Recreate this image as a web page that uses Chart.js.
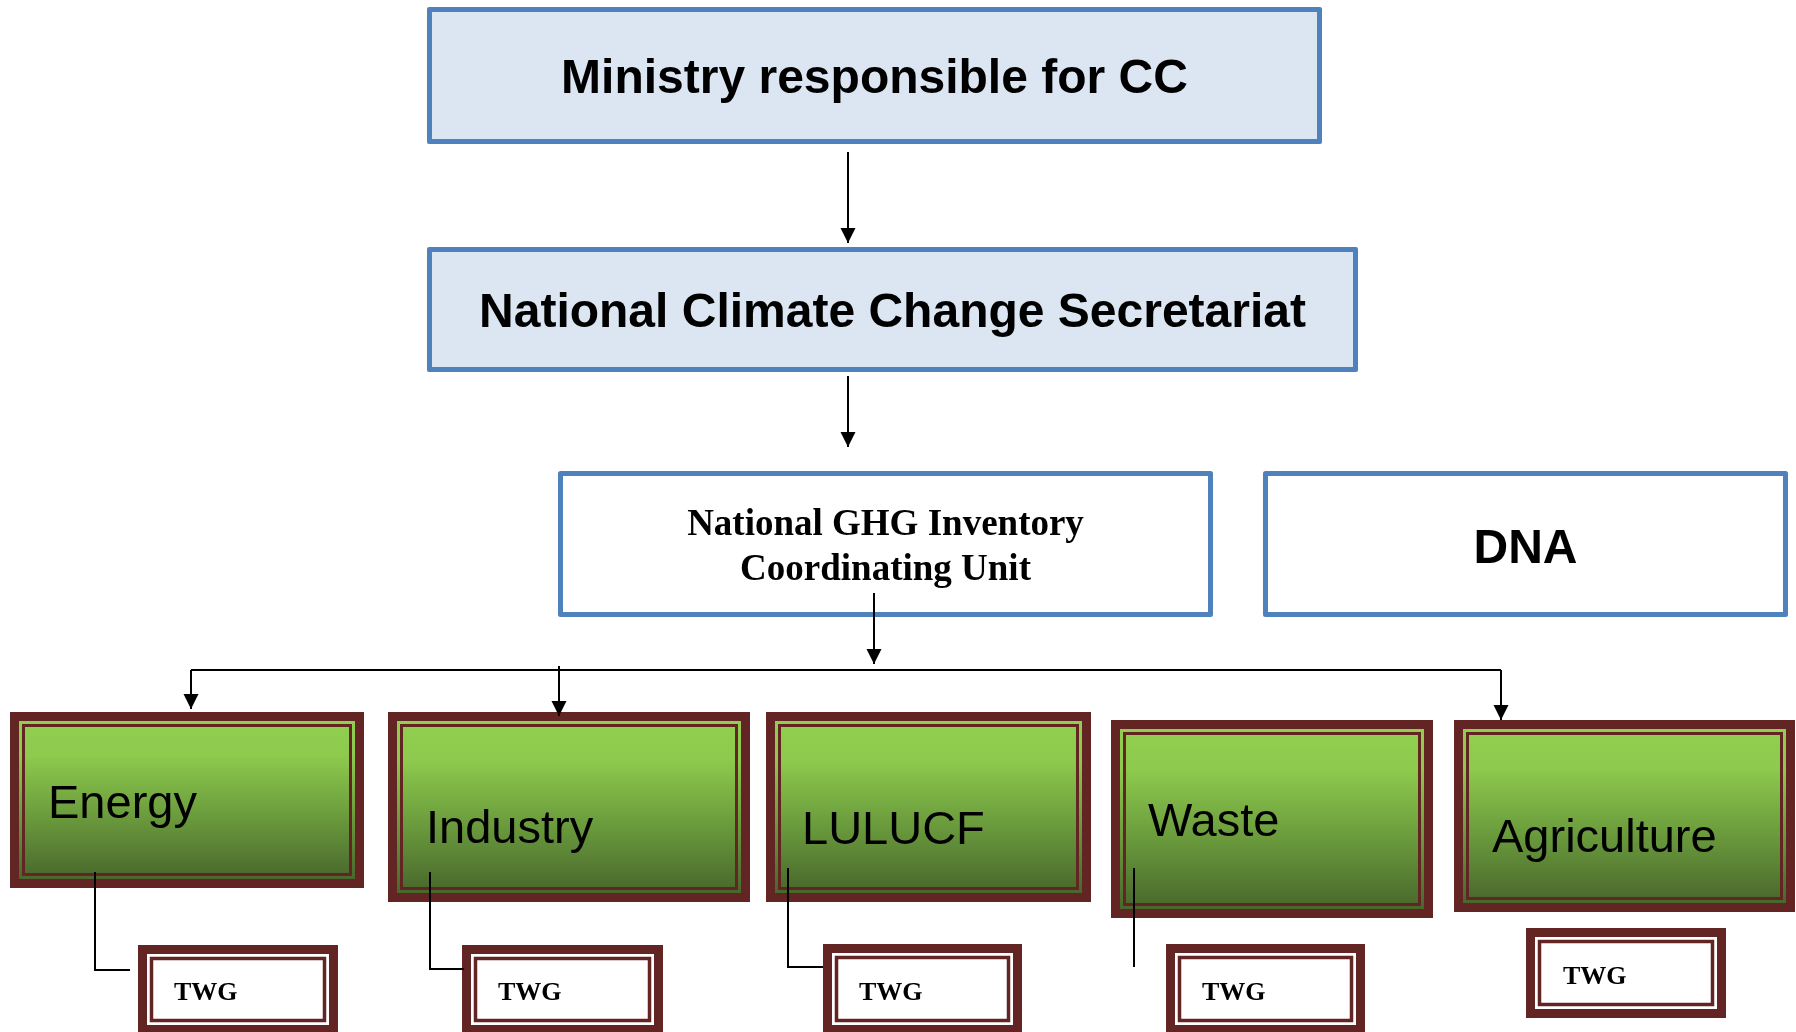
<!DOCTYPE html>
<html>
<head>
<meta charset="utf-8">
<script src="https://cdn.jsdelivr.net/npm/chart.js@4.4.0/dist/chart.umd.min.js"></script>
<style>
html, body { margin: 0; padding: 0; background: #fff; }
canvas { display: block; }
</style>
</head>
<body>
<canvas id="myChart" width="1796" height="1032"></canvas>
<script>
// the units of the chart (text only)
var topUnits = ['Ministry responsible for CC', 'National Climate Change Secretariat', 'National GHG Inventory\nCoordinating Unit', 'DNA'];
var sectors = ['Energy', 'Industry', 'LULUCF', 'Waste', 'Agriculture'];
var groupName = 'TWG';

// layout of the boxes in chart units [left, top, right, bottom]
var unitBox = [[427, 7, 1322, 144], [427, 247, 1358, 372], [558, 471, 1213, 617], [1263, 471, 1788, 617]];
var unitFill = ['#DCE6F2', '#DCE6F2', '#ffffff', '#ffffff'];
var unitFont = ['bold 48px "Liberation Sans"', 'bold 48px "Liberation Sans"', 'bold 37px "Liberation Serif"', 'bold 48px "Liberation Sans"'];
var unitBase = [[93], [327], [535, 580], [563]];

var sectorBox = [[10, 712, 364, 888], [388, 712, 750, 902], [766, 712, 1091, 902], [1111, 720, 1433, 918], [1454, 720, 1795, 912]];
var sectorTextX = [48, 426, 802, 1148, 1492];
var sectorTextY = [818, 843, 844, 836, 852];

var twgBox = [[138, 945, 338, 1034], [462, 945, 663, 1034], [823, 944, 1022, 1034], [1166, 944, 1365, 1034], [1526, 928, 1726, 1018]];
var twgTextX = [174, 498, 859, 1202, 1563];
var twgTextY = [1000, 1000, 1000, 1000, 984];

// connectors, last point is the arrow tip
var arrows = [
    [[848, 152], [848, 243]],
    [[848, 376], [848, 447]],
    [[874, 593], [874, 664]],
    [[191, 670], [191, 709]],
    [[559, 666], [559, 716]],
    [[1501, 670], [1501, 720]]
];
var lines = [
    [[191, 670], [1501, 670]],
    [[95, 872], [95, 970], [130, 970]],
    [[430, 872], [430, 969], [464, 969]],
    [[788, 868], [788, 967], [823, 967]],
    [[1134, 868], [1134, 967]]
];

var maroon = '#632523';

function toPts(arr) {
    return arr.map(function (p) { return { x: p[0], y: p[1] }; });
}

var datasets = [];
arrows.forEach(function (a) {
    datasets.push({ data: toPts(a), arrow: true });
});
lines.forEach(function (l) {
    datasets.push({ data: toPts(l), arrow: false });
});
datasets.forEach(function (d) {
    d.showLine = true;
    d.borderColor = '#000';
    d.borderWidth = 2;
    d.pointRadius = 0;
    d.fill = false;
    d.tension = 0;
});

var diagram = {
    id: 'diagram',
    beforeDatasetsDraw: function (chart) {
        var ctx = chart.ctx;
        var sx = chart.scales.x, sy = chart.scales.y;
        function rect(b) {
            var x0 = sx.getPixelForValue(b[0]), y0 = sy.getPixelForValue(b[1]);
            var x1 = sx.getPixelForValue(b[2]), y1 = sy.getPixelForValue(b[3]);
            return { x: x0, y: y0, w: x1 - x0, h: y1 - y0 };
        }
        ctx.save();
        // blue boxes
        unitBox.forEach(function (b, i) {
            var r = rect(b);
            ctx.fillStyle = unitFill[i];
            ctx.fillRect(r.x, r.y, r.w, r.h);
            ctx.lineWidth = 5;
            ctx.lineJoin = 'round';
            ctx.strokeStyle = '#4F81BD';
            ctx.strokeRect(r.x + 2.5, r.y + 2.5, r.w - 5, r.h - 5);
        });
        // green sector boxes
        sectorBox.forEach(function (b) {
            var r = rect(b);
            var g = ctx.createLinearGradient(0, r.y, 0, r.y + r.h);
            g.addColorStop(0, '#92D050');
            g.addColorStop(0.25, '#8DCA4D');
            g.addColorStop(0.6, '#6A9A3C');
            g.addColorStop(1, '#44602A');
            ctx.fillStyle = g;
            ctx.fillRect(r.x, r.y, r.w, r.h);
            ctx.lineJoin = 'miter';
            ctx.strokeStyle = maroon;
            ctx.lineWidth = 9;
            ctx.strokeRect(r.x + 4.5, r.y + 4.5, r.w - 9, r.h - 9);
            ctx.lineWidth = 3;
            ctx.strokeRect(r.x + 13.5, r.y + 13.5, r.w - 27, r.h - 27);
        });
        // TWG boxes
        twgBox.forEach(function (b) {
            var r = rect(b);
            ctx.fillStyle = '#fff';
            ctx.fillRect(r.x, r.y, r.w, r.h);
            ctx.strokeStyle = maroon;
            ctx.lineWidth = 9;
            ctx.strokeRect(r.x + 4.5, r.y + 4.5, r.w - 9, r.h - 9);
            ctx.lineWidth = 3.5;
            ctx.strokeRect(r.x + 13.5, r.y + 13.5, r.w - 27, r.h - 27);
        });
        ctx.restore();
    },
    afterDatasetsDraw: function (chart) {
        var ctx = chart.ctx;
        var sx = chart.scales.x, sy = chart.scales.y;
        ctx.save();
        // arrow heads
        ctx.fillStyle = '#000';
        chart.data.datasets.forEach(function (d) {
            if (!d.arrow) return;
            var n = d.data.length;
            var tx = sx.getPixelForValue(d.data[n - 1].x), ty = sy.getPixelForValue(d.data[n - 1].y);
            var fx = sx.getPixelForValue(d.data[n - 2].x), fy = sy.getPixelForValue(d.data[n - 2].y);
            var ang = Math.atan2(ty - fy, tx - fx);
            var len = 15, half = 7.5;
            ctx.beginPath();
            ctx.moveTo(tx, ty);
            ctx.lineTo(tx - len * Math.cos(ang) + half * Math.sin(ang), ty - len * Math.sin(ang) - half * Math.cos(ang));
            ctx.lineTo(tx - len * Math.cos(ang) - half * Math.sin(ang), ty - len * Math.sin(ang) + half * Math.cos(ang));
            ctx.closePath();
            ctx.fill();
        });
        // texts
        ctx.textBaseline = 'alphabetic';
        ctx.fillStyle = '#000';
        topUnits.forEach(function (t, i) {
            var b = unitBox[i];
            var cx = sx.getPixelForValue((b[0] + b[2]) / 2);
            ctx.font = unitFont[i];
            ctx.textAlign = 'center';
            t.split('\n').forEach(function (line, k) {
                ctx.fillText(line, cx, sy.getPixelForValue(unitBase[i][k]));
            });
        });
        ctx.textAlign = 'left';
        ctx.font = '47px "Liberation Sans"';
        sectors.forEach(function (s, i) {
            ctx.fillText(s, sx.getPixelForValue(sectorTextX[i]), sy.getPixelForValue(sectorTextY[i]));
        });
        ctx.font = 'bold 26px "Liberation Serif"';
        twgTextX.forEach(function (x, i) {
            ctx.fillText(groupName, sx.getPixelForValue(x), sy.getPixelForValue(twgTextY[i]));
        });
        ctx.restore();
    }
};

var ctx = document.getElementById('myChart').getContext('2d');
var chart = new Chart(ctx, {
    type: 'scatter',
    data: { datasets: datasets },
    options: {
        responsive: false,
        animation: false,
        devicePixelRatio: 1,
        events: [],
        layout: { padding: 0 },
        plugins: { legend: { display: false }, tooltip: { enabled: false } },
        scales: {
            x: { type: 'linear', min: 0, max: 1796, display: false },
            y: { type: 'linear', min: 0, max: 1032, reverse: true, display: false }
        }
    },
    plugins: [diagram]
});
</script>
</body>
</html>
